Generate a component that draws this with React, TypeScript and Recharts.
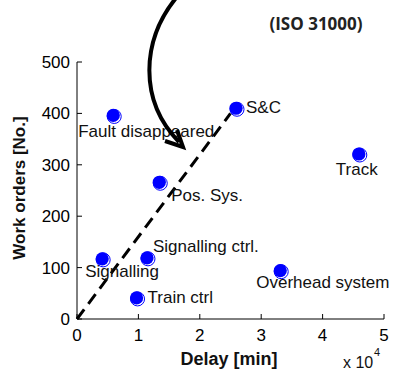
import React from 'react';
import { ScatterChart, Scatter, XAxis, YAxis, ReferenceLine } from 'recharts';

const names = ['Fault disappeared', 'S&C', 'Track', 'Pos. Sys.', 'Signalling ctrl.', 'Signalling', 'Train ctrl', 'Overhead system'];
const delays = [5900, 25900, 45900, 13400, 11400, 4100, 9700, 33100];
const workOrders = [396, 410, 321, 266, 119, 117, 41, 94];
const xTicks = [0, 10000, 20000, 30000, 40000, 50000];
const yTicks = [0, 100, 200, 300, 400, 500];
const trendStart = { x: 0, y: 0 };
const trendEnd = { x: 25000, y: 400 };

// label placement (text start offset, baseline offset) relative to each marker
const labelPlacement: Record<string, [number, number]> = {
  'Fault disappeared': [-35, 22],
  'S&C': [10, 5],
  'Track': [-23, 21],
  'Pos. Sys.': [12, 19],
  'Signalling ctrl.': [6, -6],
  'Signalling': [-17, 18],
  'Train ctrl': [11, 5],
  'Overhead system': [-24, 17],
};

const data = names.map((n, i) => ({ name: n, x: delays[i], y: workOrders[i] }));

const FONT = '"Liberation Sans", Arial, sans-serif';

const Dot = (props: any) => {
  const { cx, cy, payload } = props;
  const [dx, dy] = labelPlacement[payload.name] || [8, 5];
  return (
    <g>
      <circle cx={cx + 1} cy={cy + 1} r={7} fill="#ffffff" stroke="#0000ff" strokeWidth={1} />
      <circle cx={cx} cy={cy} r={6.6} fill="#0000ff" />
      <text x={cx + dx} y={cy + dy} fontSize={17} fontFamily={FONT} fill="#111">
        {payload.name}
      </text>
    </g>
  );
};

export default function App() {
  const tickStyle = { fill: '#000', fontSize: 17, fontFamily: FONT };
  return (
    <div style={{ position: 'absolute', left: 0, top: 0, width: 398, height: 374, background: '#fff' }}>
      <ScatterChart width={398} height={374} margin={{ top: 62, right: 14, bottom: 0, left: 0 }}>
        <XAxis
          dataKey="x"
          type="number"
          domain={[0, 50000]}
          ticks={xTicks}
          tickFormatter={(v: number) => String(v / 10000)}
          height={55}
          tickSize={-5}
          tickMargin={15}
          tick={tickStyle}
          axisLine={{ stroke: '#000' }}
          tickLine={{ stroke: '#000' }}
        />
        <XAxis
          xAxisId="top"
          orientation="top"
          type="number"
          domain={[0, 50000]}
          ticks={xTicks}
          height={0}
          tickSize={-5}
          tick={false}
          axisLine={{ stroke: '#000' }}
          tickLine={{ stroke: '#000' }}
        />
        <YAxis
          dataKey="y"
          type="number"
          domain={[0, 500]}
          ticks={yTicks}
          width={77}
          tickSize={-5}
          tickMargin={12}
          tick={tickStyle}
          axisLine={{ stroke: '#000' }}
          tickLine={{ stroke: '#000' }}
        />
        <YAxis
          yAxisId="right"
          orientation="right"
          type="number"
          domain={[0, 500]}
          ticks={yTicks}
          width={0}
          tickSize={-5}
          tick={false}
          axisLine={{ stroke: '#000' }}
          tickLine={{ stroke: '#000' }}
        />
        <ReferenceLine
          segment={[trendStart, trendEnd]}
          stroke="#000"
          strokeWidth={3}
          strokeDasharray="12 7"
        />
        <Scatter data={data} shape={<Dot />} isAnimationActive={false} />
      </ScatterChart>
      <svg width={398} height={374} style={{ position: 'absolute', left: 0, top: 0, pointerEvents: 'none' }}>
        <path d="M 176 -2 C 142 40, 138 100, 179 142" fill="none" stroke="#000" strokeWidth={4} />
        <path d="M 165 141 L 183 147 L 177 130" fill="none" stroke="#000" strokeWidth={4} strokeLinejoin="miter" />
        <text x={316} y={30} textAnchor="middle" fontSize={17} fontWeight="bold" fontFamily='"Open Sans", sans-serif' fill="#222">
          (ISO 31000)
        </text>
        <text x={229} y={365} textAnchor="middle" fontSize={18} fontWeight="bold" fontFamily={FONT} fill="#111">
          Delay [min]
        </text>
        <text
          x={0}
          y={0}
          transform="translate(25 188) rotate(-90)"
          textAnchor="middle"
          fontSize={17}
          fontWeight="bold"
          fontFamily={FONT}
          fill="#111"
        >
          Work orders [No.]
        </text>
        <text x={343} y={368} fontSize={16} fontFamily={FONT} fill="#111">x 10</text>
        <text x={374} y={356} fontSize={11} fontFamily={FONT} fill="#111">4</text>
      </svg>
    </div>
  );
}
